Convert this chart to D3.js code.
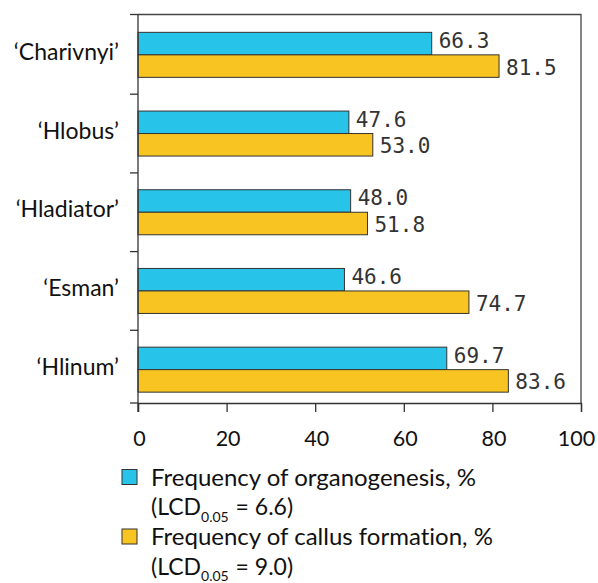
<!DOCTYPE html>
<html>
<head>
<meta charset="utf-8">
<script src="https://cdn.jsdelivr.net/npm/d3@7"></script>
<style>
  html, body { margin: 0; padding: 0; background: #fff; }
  svg { display: block; }
  text { font-variant-ligatures: none; font-feature-settings: "liga" 0, "clig" 0; }
</style>
</head>
<body>
<svg id="chart" width="598" height="583"></svg>
<script>
const categories = ["‘Charivnyi’", "‘Hlobus’", "‘Hladiator’", "‘Esman’", "‘Hlinum’"];
const organogenesis = [66.3, 47.6, 48.0, 46.6, 69.7];
const callus = [81.5, 53.0, 51.8, 74.7, 83.6];
const xTicks = [0, 20, 40, 60, 80, 100];
const seriesNames = ["Frequency of organogenesis, %", "Frequency of callus formation, %"];
const lcdValues = ["6.6", "9.0"];
const colors = ["#27c3e8", "#f8c421"];

const svg = d3.select("#chart");
const sans = "Lato, 'Noto Sans', sans-serif";
const mono = "'DejaVu Sans Mono', monospace";

const x = d3.scaleLinear().domain([0, 100]).range([138, 581]);
const y = d3.scaleBand().domain(categories).range([15.5, 409]);
const barH = 22.5;
const axisY = 403, frameTop = 14.5;

// frame (top and right)
svg.append("path")
  .attr("d", `M${x(0)},${frameTop}H${x(100)}V${axisY}`)
  .attr("fill", "none").attr("stroke", "#444").attr("stroke-width", 1.3);

// bars
categories.forEach((c, i) => {
  const cy = y(c) + y.bandwidth() / 2;
  [organogenesis[i], callus[i]].forEach((v, s) => {
    const top = s === 0 ? cy - barH : cy;
    svg.append("rect")
      .attr("x", x(0)).attr("y", top)
      .attr("width", x(v) - x(0)).attr("height", barH)
      .attr("fill", colors[s]).attr("stroke", "#333").attr("stroke-width", 1);
    svg.append("text")
      .attr("x", x(v) + 7)
      .attr("y", s === 0 ? cy - 7 : cy + barH / 2 + 8.5)
      .attr("font-family", mono).attr("font-size", 21).attr("fill", "#333")
      .text(v.toFixed(1));
  });
  svg.append("text")
    .attr("x", 119).attr("y", cy + 5)
    .attr("text-anchor", "end")
    .attr("font-family", sans).attr("font-size", 23).attr("fill", "#111")
    .text(c);
});

// y axis line and ticks at band boundaries
svg.append("line").attr("x1", x(0)).attr("x2", x(0)).attr("y1", frameTop).attr("y2", axisY + 9)
  .attr("stroke", "#333").attr("stroke-width", 1.3);
const yTickPos = [frameTop].concat(categories.slice(1).map(c => y(c))).concat([axisY]);
yTickPos.forEach(p => {
  svg.append("line").attr("x1", 130).attr("x2", x(0)).attr("y1", p).attr("y2", p)
    .attr("stroke", "#333").attr("stroke-width", 1.3);
});

// x axis
const xAxis = d3.axisBottom(x).tickValues(xTicks).tickSize(9).tickPadding(0);
const gx = svg.append("g").attr("transform", `translate(0,${axisY})`).call(xAxis);
gx.select(".domain").attr("stroke", "#333").attr("stroke-width", 1.3);
gx.selectAll(".tick line").attr("stroke", "#333").attr("stroke-width", 1.3);
gx.selectAll(".tick text")
  .attr("font-family", sans).attr("font-size", 21.5).attr("fill", "#111")
  .attr("dy", null).attr("y", 43)
  .attr("dx", d => d === 100 ? -5 : 1);

// legend
const legY = [485.5, 545];
seriesNames.forEach((n, s) => {
  const by = legY[s];
  svg.append("rect").attr("x", 122).attr("y", by - 16).attr("width", 15).attr("height", 15)
    .attr("fill", colors[s]).attr("stroke", "#333").attr("stroke-width", 1);
  svg.append("text").attr("x", 151).attr("y", by)
    .attr("font-family", sans).attr("font-size", 24).attr("fill", "#111").text(n);
  const t = svg.append("text").attr("x", 151).attr("y", by + 29.5)
    .attr("font-family", sans).attr("font-size", 23).attr("fill", "#111");
  t.append("tspan").text("(LCD");
  t.append("tspan").attr("font-size", 14).attr("dy", 6.5).text("0.05");
  t.append("tspan").attr("dy", -6.5).attr("dx", 1).text(" = " + lcdValues[s] + ")");
});
</script>
</body>
</html>
